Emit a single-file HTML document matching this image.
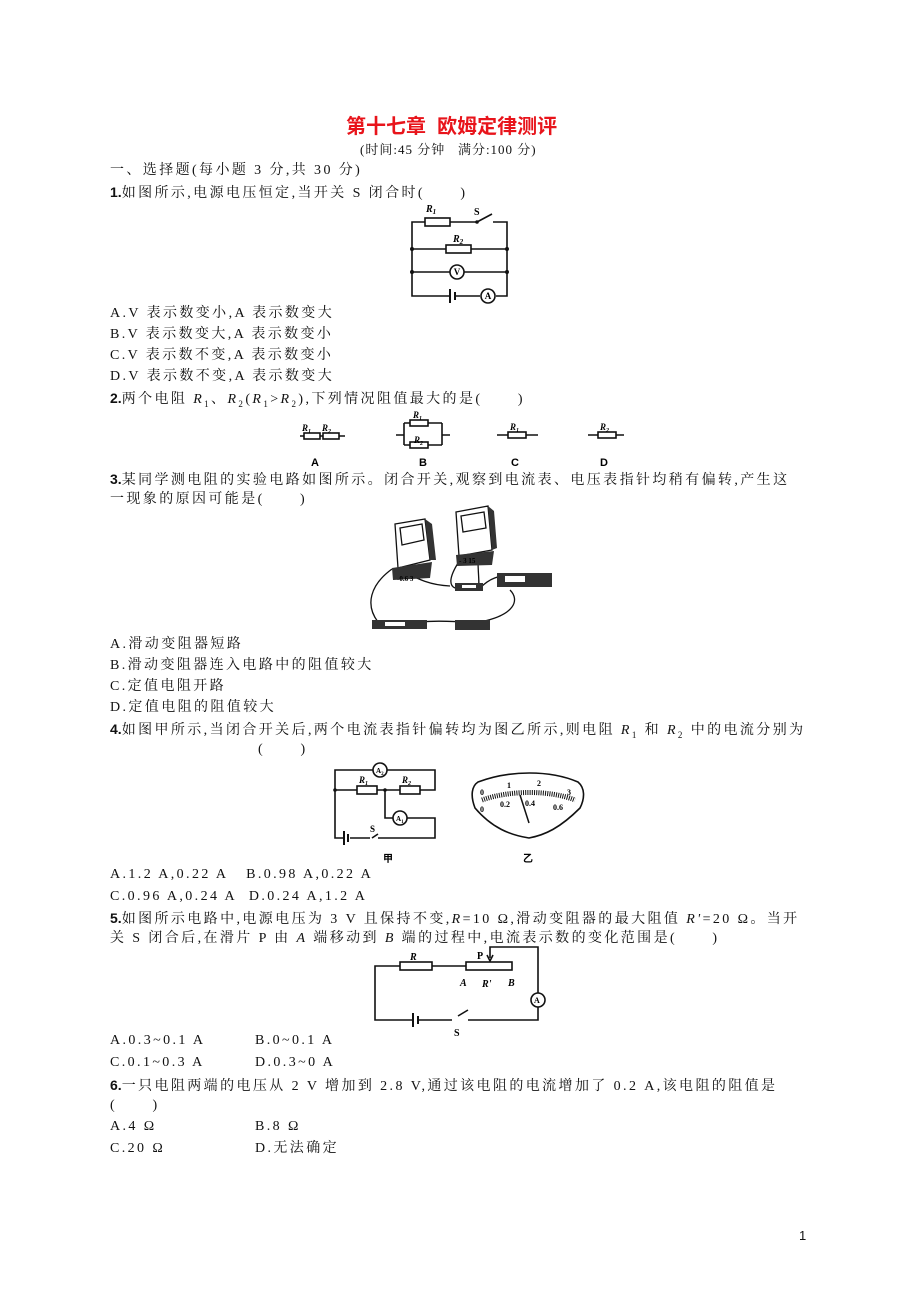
<!DOCTYPE html>
<html><head><meta charset="utf-8"><style>
html,body{margin:0;padding:0;background:#fff;}
body{width:920px;height:1302px;position:relative;overflow:hidden;font-family:"Liberation Serif","Noto Serif CJK SC",serif;color:#111;}
.t{position:absolute;left:110px;font-size:14px;line-height:18px;white-space:nowrap;letter-spacing:2.4px;}
.t b{font-family:"Liberation Sans",sans-serif;letter-spacing:0}
i{font-style:italic}
svg{position:absolute;left:0;top:0}
</style></head><body>
<div class="t" style="left:346px;top:115px;font-size:20px;line-height:24px;color:#e8141b;font-family:'Liberation Sans','Noto Sans CJK SC',sans-serif;font-weight:bold;letter-spacing:0">第十七章&nbsp; 欧姆定律测评</div>
<div class="t" style="left:360px;top:141px;font-size:13px;letter-spacing:1px">(时间:45 分钟&nbsp;&nbsp;&nbsp;满分:100 分)</div>
<div class="t" style="top:162px">一、选择题(每小题 3 分,共 30 分)</div>
<div class="t" style="top:183px"><b>1.</b>如图所示,电源电压恒定,当开关 S 闭合时(&nbsp;&nbsp;&nbsp;&nbsp;&nbsp;&nbsp;)</div>
<div class="t" style="top:305px">A.V 表示数变小,A 表示数变大</div>
<div class="t" style="top:326px">B.V 表示数变大,A 表示数变小</div>
<div class="t" style="top:347px">C.V 表示数不变,A 表示数变小</div>
<div class="t" style="top:368px">D.V 表示数不变,A 表示数变大</div>
<div class="t" style="top:389px"><b>2.</b>两个电阻 <i>R</i><sub style="font-size:9px">1</sub>、<i>R</i><sub style="font-size:9px">2</sub>(<i>R</i><sub style="font-size:9px">1</sub>&gt;<i>R</i><sub style="font-size:9px">2</sub>),下列情况阻值最大的是(&nbsp;&nbsp;&nbsp;&nbsp;&nbsp;&nbsp;)</div>
<div class="t" style="top:470px"><b>3.</b>某同学测电阻的实验电路如图所示。闭合开关,观察到电流表、电压表指针均稍有偏转,产生这</div>
<div class="t" style="top:491px">一现象的原因可能是(&nbsp;&nbsp;&nbsp;&nbsp;&nbsp;&nbsp;)</div>
<div class="t" style="top:636px">A.滑动变阻器短路</div>
<div class="t" style="top:657px">B.滑动变阻器连入电路中的阻值较大</div>
<div class="t" style="top:678px">C.定值电阻开路</div>
<div class="t" style="top:699px">D.定值电阻的阻值较大</div>
<div class="t" style="top:720px"><b>4.</b>如图甲所示,当闭合开关后,两个电流表指针偏转均为图乙所示,则电阻 <i>R</i><sub style="font-size:9px">1</sub> 和 <i>R</i><sub style="font-size:9px">2</sub> 中的电流分别为</div>
<div class="t" style="top:741px;left:258px">(&nbsp;&nbsp;&nbsp;&nbsp;&nbsp;&nbsp;)</div>
<div class="t" style="top:866px">A.1.2 A,0.22 A&nbsp;&nbsp;&nbsp;B.0.98 A,0.22 A</div>
<div class="t" style="top:888px">C.0.96 A,0.24 A&nbsp;&nbsp;D.0.24 A,1.2 A</div>
<div class="t" style="top:909px"><b>5.</b>如图所示电路中,电源电压为 3 V 且保持不变,<i>R</i>=10 Ω,滑动变阻器的最大阻值 <i>R'</i>=20 Ω。当开</div>
<div class="t" style="top:930px">关 S 闭合后,在滑片 P 由 <i>A</i> 端移动到 <i>B</i> 端的过程中,电流表示数的变化范围是(&nbsp;&nbsp;&nbsp;&nbsp;&nbsp;&nbsp;)</div>
<div class="t" style="top:1032px">A.0.3~0.1 A</div><div class="t" style="top:1032px;left:255px">B.0~0.1 A</div>
<div class="t" style="top:1054px">C.0.1~0.3 A</div><div class="t" style="top:1054px;left:255px">D.0.3~0 A</div>
<div class="t" style="top:1076px"><b>6.</b>一只电阻两端的电压从 2 V 增加到 2.8 V,通过该电阻的电流增加了 0.2 A,该电阻的阻值是</div>
<div class="t" style="top:1097px">(&nbsp;&nbsp;&nbsp;&nbsp;&nbsp;&nbsp;)</div>
<div class="t" style="top:1118px">A.4 Ω</div><div class="t" style="top:1118px;left:255px">B.8 Ω</div>
<div class="t" style="top:1140px">C.20 Ω</div><div class="t" style="top:1140px;left:255px">D.无法确定</div>
<div class="t" style="top:1227px;left:799px;font-family:'Liberation Sans',sans-serif;font-size:13px;letter-spacing:0">1</div>

<svg width="920" height="1302" viewBox="0 0 920 1302" font-family="Liberation Serif,serif" font-weight="bold" font-style="italic">
<g stroke="#111" stroke-width="1.6" fill="none">
<path d="M425 222H412V296H450M455 296H480M496 296H507V222H493M477 222H450"/>
<rect x="425" y="218" width="25" height="8" fill="#fff"/>
<path d="M477 222L492 214"/>
<path d="M412 249H446M471 249H507"/><rect x="446" y="245" width="25" height="8" fill="#fff"/>
<path d="M412 272H450M464 272H507"/><circle cx="457" cy="272" r="7" fill="#fff"/>
<path d="M450 289V303M455 292V300" stroke-width="2"/>
<circle cx="488" cy="296" r="7" fill="#fff"/>
</g>
<g fill="#111"><circle cx="412" cy="249" r="2"/><circle cx="507" cy="249" r="2"/><circle cx="412" cy="272" r="2"/><circle cx="507" cy="272" r="2"/><circle cx="477" cy="222" r="1.8"/></g>
<g font-size="10"><text x="426" y="212">R<tspan font-size="7" dy="2">1</tspan></text><text x="474" y="215" font-style="normal">S</text><text x="453" y="242">R<tspan font-size="7" dy="2">2</tspan></text></g>
<g font-size="9" font-style="normal" text-anchor="middle"><text x="457" y="275">V</text><text x="488" y="299">A</text></g>

<g stroke="#111" stroke-width="1.6" fill="none">
<path d="M300 436H345"/><rect x="304" y="433" width="16" height="6" fill="#fff"/><rect x="323" y="433" width="16" height="6" fill="#fff"/>
<path d="M396 435H404M404 423V445M404 423H410M428 423H442M442 423V445M404 445H410M428 445H442M442 435H450"/>
<rect x="410" y="420" width="18" height="6" fill="#fff"/><rect x="410" y="442" width="18" height="6" fill="#fff"/>
<path d="M497 435H538"/><rect x="508" y="432" width="18" height="6" fill="#fff"/>
<path d="M588 435H624"/><rect x="598" y="432" width="18" height="6" fill="#fff"/>
</g>
<g font-size="9"><text x="302" y="431">R<tspan font-size="6" dy="2">1</tspan></text><text x="322" y="431">R<tspan font-size="6" dy="2">2</tspan></text>
<text x="413" y="418">R<tspan font-size="6" dy="2">1</tspan></text><text x="414" y="443">R<tspan font-size="6" dy="2">2</tspan></text>
<text x="510" y="430">R<tspan font-size="6" dy="2">1</tspan></text><text x="600" y="430">R<tspan font-size="6" dy="2">2</tspan></text></g>
<g font-size="11" font-style="normal" font-family="Liberation Sans,sans-serif"><text x="311" y="466">A</text><text x="419" y="466">B</text><text x="511" y="466">C</text><text x="600" y="466">D</text></g>

<g stroke="#111" stroke-width="1.3" fill="none">
<path d="M392 569C370 585 365 605 378 622M400 570C420 580 430 585 450 586M460 560C450 575 448 585 455 588M478 560C478 575 480 585 478 587M480 588C490 578 500 575 507 577M510 590C520 600 515 615 480 622M420 622C440 620 455 622 470 622M382 622C405 625 410 622 420 622"/>
<path d="M395 524L425 519L430 560L398 568Z"/><path d="M456 512L488 506L492 550L459 556Z"/>
<path d="M400 528L422 524L424 540L402 545Z"/><path d="M461 516L484 512L486 528L463 532Z"/>
</g>
<g fill="#333">
<path d="M425 519L432 524L436 560L430 560Z"/><path d="M488 506L494 511L497 548L492 550Z"/>
<path d="M392 568L432 562L430 578L393 580Z"/><path d="M456 555L494 551L492 565L457 566Z"/>
<rect x="455" y="583" width="28" height="8"/><rect x="497" y="573" width="55" height="14"/>
<rect x="372" y="620" width="55" height="9"/><rect x="455" y="620" width="35" height="10"/>
</g>
<g fill="#fff"><rect x="462" y="585" width="14" height="3"/><rect x="505" y="576" width="20" height="6"/><rect x="385" y="622" width="20" height="4"/></g>
<text x="397" y="581" font-size="7" font-style="normal">-0.6 3</text><text x="459" y="563" font-size="7" font-style="normal">- 3 15</text>

<g stroke="#111" stroke-width="1.6" fill="none">
<path d="M335 790V770H373M387 770H435V790H420M400 790H377M357 790H335V838H343M350 838H370M378 834L372 838M378 838H435V818H407M393 818H385V790"/>
<rect x="357" y="786" width="20" height="8" fill="#fff"/><rect x="400" y="786" width="20" height="8" fill="#fff"/>
<circle cx="380" cy="770" r="7" fill="#fff"/><circle cx="400" cy="818" r="7" fill="#fff"/>
<path d="M344 831V845M348 834V842" stroke-width="2"/>
</g>
<g fill="#111"><circle cx="335" cy="790" r="1.8"/><circle cx="385" cy="790" r="1.8"/></g>
<g font-size="9"><text x="359" y="783">R<tspan font-size="6" dy="2">1</tspan></text><text x="402" y="783">R<tspan font-size="6" dy="2">2</tspan></text><text x="370" y="832" font-style="normal">S</text>
<text x="376" y="773" font-size="7" font-style="normal">A<tspan font-size="5" dy="2">2</tspan></text><text x="396" y="821" font-size="7" font-style="normal">A<tspan font-size="5" dy="2">1</tspan></text></g>
<text x="383" y="862" font-size="10" font-style="normal" font-family="Noto Sans CJK SC,sans-serif">甲</text>
<text x="523" y="862" font-size="10" font-style="normal" font-family="Noto Sans CJK SC,sans-serif">乙</text>
<g stroke="#111" fill="none">
<path d="M475 808C470 795 472 786 478 782C510 770 550 770 578 782C585 788 585 798 580 808C560 828 545 835 529 838C510 835 492 828 475 808Z" stroke-width="1.6"/>
<path d="M482 800C510 790 550 790 575 800" stroke-width="5" stroke-dasharray="1 1.2"/>
<path d="M529 823L520 795" stroke-width="1.5"/>
</g>
<g font-size="8" font-style="normal"><text x="480" y="795">0</text><text x="507" y="788">1</text><text x="537" y="786">2</text><text x="567" y="795">3</text><text x="480" y="812">0</text><text x="500" y="807">0.2</text><text x="525" y="806">0.4</text><text x="553" y="810">0.6</text></g>

<g stroke="#111" stroke-width="1.6" fill="none">
<path d="M400 966H375V1020H413M418 1020H452M458 1016L468 1010M468 1020H538V1007M538 993V947H490V958M432 966H466"/>
<rect x="400" y="962" width="32" height="8" fill="#fff"/><rect x="466" y="962" width="46" height="8" fill="#fff"/>
<circle cx="538" cy="1000" r="7" fill="#fff"/>
<path d="M413 1013V1027M418 1016V1024" stroke-width="2"/>
<path d="M487 955L490 961L493 955"/>
</g>
<g font-size="10"><text x="410" y="960">R</text><text x="477" y="959" font-style="normal">P</text><text x="460" y="986">A</text><text x="482" y="987">R'</text><text x="508" y="986">B</text><text x="454" y="1036" font-style="normal">S</text><text x="534" y="1003" font-size="8" font-style="normal">A</text></g>
</svg>
</body></html>
